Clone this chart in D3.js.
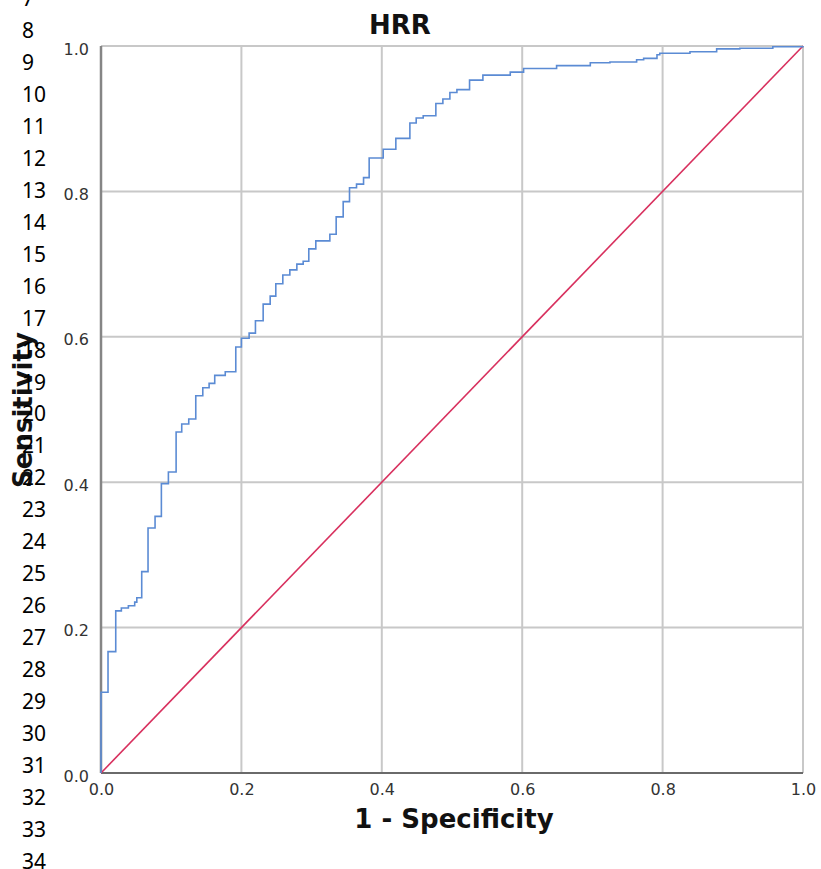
<!DOCTYPE html>
<html>
<head>
<meta charset="utf-8">
<script src="https://cdn.jsdelivr.net/npm/d3@7"></script>
<style>
  body { margin: 0; background: #fff; }
  svg { display: block; }
  .tick text { font-family: "DejaVu Sans", sans-serif; fill: #333; }
</style>
</head>
<body>
<svg id="chart" width="821" height="869"></svg>
<script>
// ROC curve vertices (1 - specificity, sensitivity).
var fpr = [0, 0, 0.010, 0.021, 0.029, 0.039, 0.048, 0.051, 0.058, 0.067, 0.077, 0.086, 0.096,
    0.107, 0.115, 0.125, 0.135, 0.145, 0.154, 0.162, 0.177, 0.192, 0.200, 0.211, 0.220, 0.231,
    0.241, 0.249, 0.259, 0.269, 0.279, 0.288, 0.296, 0.306, 0.326, 0.335, 0.345, 0.354, 0.364,
    0.374, 0.382, 0.402, 0.420, 0.440, 0.449, 0.459, 0.477, 0.487, 0.497, 0.507, 0.525, 0.544,
    0.583, 0.602, 0.649, 0.697, 0.725, 0.763, 0.773, 0.792, 0.796, 0.839, 0.877, 0.910, 0.957, 1.0];
var tpr = [0, 0.111, 0.167, 0.223, 0.227, 0.230, 0.235, 0.241, 0.277, 0.337, 0.353, 0.398, 0.414,
    0.469, 0.480, 0.487, 0.519, 0.530, 0.536, 0.547, 0.552, 0.586, 0.598, 0.605, 0.622, 0.645,
    0.656, 0.673, 0.685, 0.692, 0.700, 0.704, 0.721, 0.732, 0.741, 0.765, 0.786, 0.805, 0.810,
    0.819, 0.846, 0.858, 0.873, 0.894, 0.901, 0.904, 0.921, 0.927, 0.936, 0.940, 0.953, 0.960,
    0.964, 0.969, 0.973, 0.977, 0.978, 0.981, 0.983, 0.988, 0.990, 0.992, 0.996, 0.997, 0.999, 1.0];
// Reference line.
var diagonal = [0, 1];
var tickValues = [0, 0.2, 0.4, 0.6, 0.8, 1.0];
var gridValues = [0.2, 0.4, 0.6, 0.8, 1.0];
// Line numbers down the left margin.
var lineNumbers = d3.range(7, 35);

var svg = d3.select("#chart");
// Note: "top" is taken by window.top, so use plot* names.
var plotLeft = 101, plotRight = 803, plotTop = 46, plotBottom = 773;

var x = d3.scaleLinear().domain([0, 1]).range([plotLeft, plotRight]);
var y = d3.scaleLinear().domain([0, 1]).range([plotBottom, plotTop]);

// Grid lines.
svg.append("g")
    .selectAll("line")
    .data(gridValues)
    .enter()
    .append("line")
    .attr("x1", function (d) { return x(d); })
    .attr("x2", function (d) { return x(d); })
    .attr("y1", y(0))
    .attr("y2", y(1))
    .attr("stroke", "#c8c8c8")
    .attr("stroke-width", 2);
svg.append("g")
    .selectAll("line")
    .data(gridValues)
    .enter()
    .append("line")
    .attr("x1", x(0))
    .attr("x2", x(1))
    .attr("y1", function (d) { return y(d); })
    .attr("y2", function (d) { return y(d); })
    .attr("stroke", "#c8c8c8")
    .attr("stroke-width", 2);

// Axis lines.
svg.append("line")
    .attr("x1", x(0)).attr("x2", x(0))
    .attr("y1", y(0)).attr("y2", y(1))
    .attr("stroke", "#858585")
    .attr("stroke-width", 2.5);
svg.append("line")
    .attr("x1", x(0)).attr("x2", x(1))
    .attr("y1", y(0)).attr("y2", y(0))
    .attr("stroke", "#6a6a6a")
    .attr("stroke-width", 2);

// Tick labels.
var xAxis = svg.append("g")
    .attr("transform", "translate(0," + (plotBottom + 8) + ")")
    .call(d3.axisBottom(x).tickValues(tickValues).tickSize(0).tickFormat(d3.format(".1f")));
xAxis.select(".domain").remove();
xAxis.selectAll("text").attr("font-size", 16);

var yAxis = svg.append("g")
    .attr("transform", "translate(" + (plotLeft - 9) + ",0)")
    .call(d3.axisLeft(y).tickValues(tickValues).tickSize(0).tickFormat(d3.format(".1f")));
yAxis.select(".domain").remove();
yAxis.selectAll("text").attr("font-size", 16).attr("dy", "0.5em");

// Diagonal reference line.
svg.append("line")
    .attr("x1", x(diagonal[0])).attr("y1", y(diagonal[0]))
    .attr("x2", x(diagonal[1])).attr("y2", y(diagonal[1]))
    .attr("stroke", "#d8305e")
    .attr("stroke-width", 1.6);

// ROC curve.
var points = fpr.map(function (d, i) { return [d, tpr[i]]; });
var line = d3.line()
    .x(function (d) { return x(d[0]); })
    .y(function (d) { return y(d[1]); })
    .curve(d3.curveStepAfter);
svg.append("path")
    .datum(points)
    .attr("d", line)
    .attr("fill", "none")
    .attr("stroke", "#5b8bd4")
    .attr("stroke-width", 1.6);

// Titles.
svg.append("text")
    .text("HRR")
    .attr("x", 400)
    .attr("y", 34)
    .attr("text-anchor", "middle")
    .attr("font-family", "DejaVu Sans, sans-serif")
    .attr("font-weight", "bold")
    .attr("font-size", 26)
    .attr("fill", "#111");
svg.append("text")
    .text("1 - Specificity")
    .attr("x", 454)
    .attr("y", 828)
    .attr("text-anchor", "middle")
    .attr("font-family", "DejaVu Sans, sans-serif")
    .attr("font-weight", "bold")
    .attr("font-size", 26)
    .attr("fill", "#111");
svg.append("text")
    .text("Sensitivity")
    .attr("transform", "translate(32,410) rotate(-90)")
    .attr("text-anchor", "middle")
    .attr("font-family", "DejaVu Sans, sans-serif")
    .attr("font-weight", "bold")
    .attr("font-size", 26)
    .attr("fill", "#111");

// Line numbers.
svg.append("g")
    .selectAll("text")
    .data(lineNumbers)
    .enter()
    .append("text")
    .text(function (d) { return d; })
    .attr("x", 22)
    .attr("y", function (d, i) { return 6 + i * 31.96; })
    .attr("font-family", "Noto Sans, sans-serif")
    .attr("font-size", 21)
    .attr("fill", "#000");
</script>
</body>
</html>
